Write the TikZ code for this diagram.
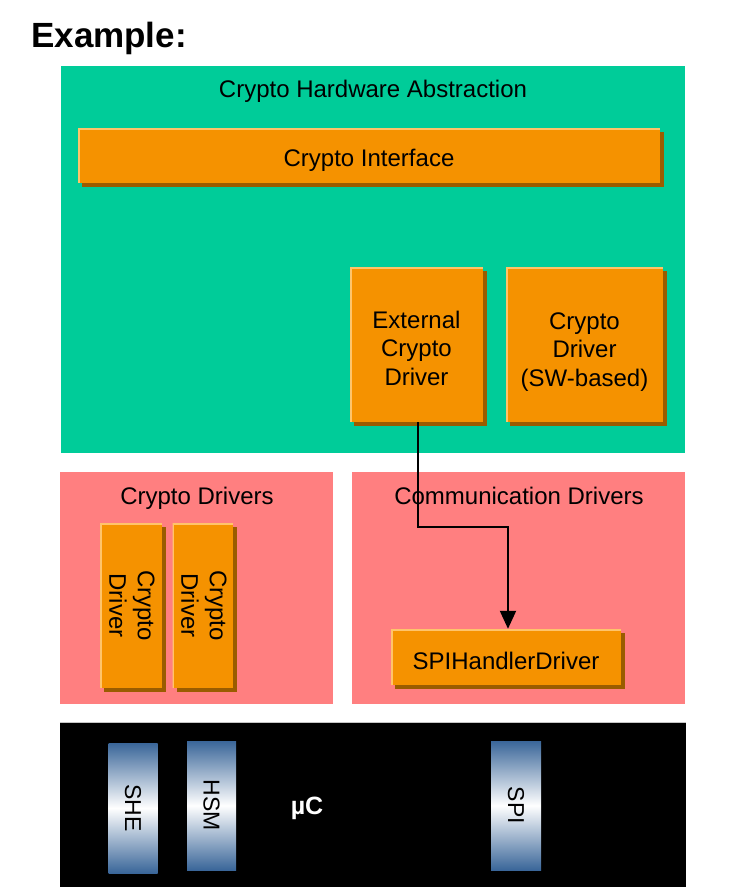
\documentclass[tikz,border=0pt]{standalone}
\usepackage{fontspec}
\setmainfont{Liberation Sans}
\usetikzlibrary{shadows,arrows.meta}
\definecolor{hwgreen}{HTML}{00CC99}
\definecolor{orng}{HTML}{F59200}
\definecolor{shbrown}{HTML}{9A5C00}
\definecolor{hilite}{HTML}{FFC46A}
\definecolor{pinkbg}{HTML}{FF7F80}
\definecolor{bluegrad}{HTML}{3A6699}
\begin{document}
\begin{tikzpicture}[x=1pt,y=-1pt,
  txt/.style={font=\fontsize{24}{28.5}\selectfont, inner sep=0pt, align=center, anchor=base},
  container/.style={rectangle, inner sep=0pt, draw=none},
  obox/.style={rectangle, fill=orng, inner sep=0pt, align=center,
    font=\fontsize{24}{28.5}\selectfont,
    drop shadow={shadow xshift=4pt, shadow yshift=-4pt, fill=shbrown, opacity=1},
    path picture={\draw[hilite, line width=3pt]
      (path picture bounding box.south west) -- (path picture bounding box.north west)
      -- (path picture bounding box.north east);}},
  gbox/.style={rectangle, inner sep=0pt, top color=bluegrad, bottom color=bluegrad,
    middle color=white, font=\fontsize{23}{27}\selectfont},
  flow/.style={-{Triangle[length=18pt,width=16pt]}, line width=2pt, black}
]
\useasboundingbox (0,0) rectangle (745,894);

\node[anchor=base west, font=\fontsize{35}{40}\selectfont\bfseries, inner sep=0pt] (ex) at (31,47) {Example:};

% Crypto Hardware Abstraction
\node[container, fill=hwgreen, minimum width=624pt, minimum height=387pt] (hwa) at (373,259.5) {};
\node[txt] (hwat) at (373,97.5) {Crypto Hardware Abstraction};
\node[obox, minimum width=582pt, minimum height=55pt] (cif) at (369,155.5) {\rule{0pt}{27.5pt}Crypto Interface};
\node[obox, minimum width=133pt, minimum height=155pt] (ext) at (416.5,344.5) {\rule{0pt}{24.5pt}External\\Crypto\\Driver};
\node[obox, minimum width=157pt, minimum height=155pt] (swd) at (584.5,344.5) {\rule{0pt}{31pt}Crypto\\Driver\\(SW-based)};

% Crypto Drivers
\node[container, fill=pinkbg, minimum width=273pt, minimum height=232pt] (cdr) at (196.5,588) {};
\node[txt] (cdrt) at (197,504) {Crypto Drivers};
\node[obox, minimum width=62pt, minimum height=165pt] (cd1) at (131,605.5)
  {\rotatebox{-90}{\begin{tabular}{@{}c@{}}\rule{0pt}{23.5pt}Crypto\\Driver\end{tabular}}};
\node[obox, minimum width=60pt, minimum height=165pt] (cd2) at (203,605.5)
  {\rotatebox{-90}{\begin{tabular}{@{}c@{}}\rule{0pt}{23.5pt}Crypto\\Driver\end{tabular}}};

% Communication Drivers
\node[container, fill=pinkbg, minimum width=333pt, minimum height=232pt] (com) at (518.5,588) {};
\node[txt] (comt) at (519,504) {Communication Drivers};
\node[obox, minimum width=230pt, minimum height=56pt] (spih) at (506,657) {\rule{0pt}{25.5pt}SPIHandlerDriver};

% microcontroller
\node[container, fill=black, minimum width=626pt, minimum height=164pt] (mcu) at (373,805) {};
\draw[gray!45, line width=1pt] (mcu.north west) -- (mcu.north east);
\node[gbox, minimum width=49pt, minimum height=130pt] (she) at (133,808) {\rotatebox{-90}{SHE}};
\node[gbox, minimum width=49pt, minimum height=129pt] (hsm) at (211.5,805.5) {\rotatebox{-90}{HSM}};
\node[gbox, minimum width=50pt, minimum height=129pt] (spi) at (516,805.5) {\rotatebox{-90}{SPI}};
\node[font=\fontsize{25}{30}\selectfont\bfseries, text=white, inner sep=0pt, anchor=base] (muc) at (307,814) {µC};

% connector
\coordinate (bend) at (0,527);
\draw[flow] ([xshift=1.8pt]ext.south) -- ([xshift=1.8pt]ext.south |- bend) -| ([xshift=2pt]spih.north);
\end{tikzpicture}
\end{document}
